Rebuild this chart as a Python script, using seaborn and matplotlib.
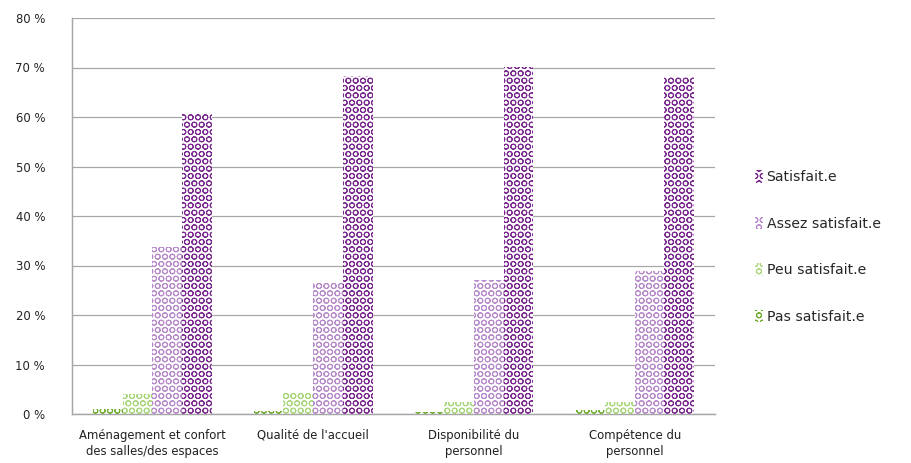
import pandas as pd
import seaborn as sns
import matplotlib.pyplot as plt
from matplotlib.patches import Patch

categories = [
    "Aménagement et confort\ndes salles/des espaces",
    "Qualité de l'accueil",
    "Disponibilité du\npersonnel",
    "Compétence du\npersonnel",
]
levels = ["Pas satisfait.e", "Peu satisfait.e", "Assez satisfait.e", "Satisfait.e"]
pas_satisfait = [1.0, 0.6, 0.4, 0.9]
peu_satisfait = [4.0, 4.4, 2.5, 2.5]
assez_satisfait = [33.7, 26.7, 27.1, 28.9]
satisfait = [60.8, 68.3, 70.1, 68.1]
colors = ["#6fae2c", "#a8d67a", "#b88bcb", "#7a2a8e"]
y_ticks = [0, 10, 20, 30, 40, 50, 60, 70, 80]

values = [pas_satisfait, peu_satisfait, assez_satisfait, satisfait]
rows = []
for lvl, vals in zip(levels, values):
    for cat, v in zip(categories, vals):
        rows.append({"categorie": cat, "niveau": lvl, "pct": v})
df = pd.DataFrame(rows)

sns.set_style("white")
plt.rcParams["font.family"] = ["DejaVu Sans"]
plt.rcParams["hatch.linewidth"] = 0.8

dpi = 88
fig, ax = plt.subplots(figsize=(911 / dpi, 463 / dpi), dpi=dpi)
fig.subplots_adjust(left=72 / 911, right=715 / 911, top=1 - 18 / 463, bottom=1 - 414 / 463)

sns.barplot(data=df, x="categorie", y="pct", hue="niveau", hue_order=levels,
            palette=colors, width=0.74, gap=0, ax=ax, legend=False)

for cont, col in zip(ax.containers, colors):
    for bar in cont:
        bar.set_facecolor("white")
        bar.set_edgecolor(col)
        bar.set_linewidth(0)
        bar.set_hatch("OO")

ax.set_ylim(0, 80)
ax.set_yticks(y_ticks)
ax.set_yticklabels([f"{t} %" for t in y_ticks], fontsize=9.5, color="#222222")
ax.tick_params(axis="x", labelsize=9.5, colors="#222222", length=0, pad=12)
ax.tick_params(axis="y", length=0, pad=22)
for lbl in ax.get_xticklabels():
    lbl.set_linespacing(1.3)
ax.yaxis.grid(True, color="#a6a6a6", linewidth=1)
ax.set_axisbelow(True)
ax.set_xlabel("")
ax.set_ylabel("")
for s in ["top", "right"]:
    ax.spines[s].set_visible(False)
for s in ["left", "bottom"]:
    ax.spines[s].set_color("#a6a6a6")
    ax.spines[s].set_linewidth(1.2)

handles = [Patch(facecolor="white", edgecolor=c, linewidth=0, hatch="OO")
           for c in colors][::-1]
leg = fig.legend(handles, levels[::-1], loc="center left",
                 bbox_to_anchor=(742 / 911, 1 - 247 / 463), frameon=False,
                 fontsize=11.5, handlelength=0.6, handleheight=1.0,
                 handletextpad=0.25, labelspacing=2.3)

fig.savefig("out.png", dpi=dpi)
